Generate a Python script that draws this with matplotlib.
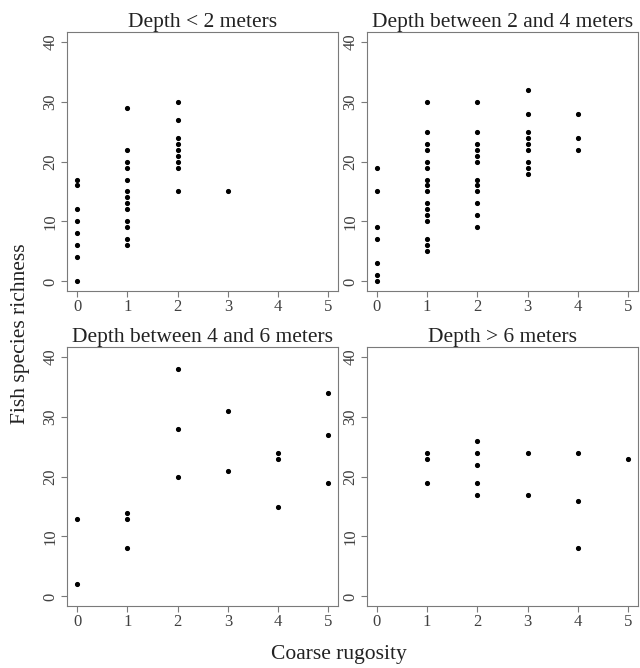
import matplotlib.pyplot as plt

plt.rcParams['font.family'] = ['Liberation Serif', 'DejaVu Serif']

titles = ['Depth < 2 meters', 'Depth between 2 and 4 meters',
          'Depth between 4 and 6 meters', 'Depth > 6 meters']

# (rugosity, richness) per depth class
rug1 = [0]*8 + [1]*13 + [2]*9 + [3]
rich1 = [17, 16, 12, 10, 8, 6, 4, 0,
         29, 22, 20, 19, 17, 15, 14, 13, 12, 10, 9, 7, 6,
         30, 27, 24, 23, 22, 21, 20, 19, 15,
         15]

rug2 = [0]*7 + [1]*16 + [2]*12 + [3]*9 + [4]*3
rich2 = [19, 15, 9, 7, 3, 1, 0,
         30, 25, 23, 22, 20, 19, 17, 16, 15, 13, 12, 11, 10, 7, 6, 5,
         30, 25, 23, 22, 21, 20, 17, 16, 15, 13, 11, 9,
         32, 28, 25, 24, 23, 22, 20, 19, 18,
         28, 24, 22]

rug3 = [0, 0, 1, 1, 1, 2, 2, 2, 3, 3, 4, 4, 4, 5, 5, 5]
rich3 = [13, 2, 14, 13, 8, 38, 28, 20, 31, 21, 24, 23, 15, 34, 27, 19]

rug4 = [1, 1, 1, 2, 2, 2, 2, 2, 3, 3, 4, 4, 4, 5]
rich4 = [24, 23, 19, 26, 24, 22, 19, 17, 24, 17, 24, 16, 8, 23]

data = [(rug1, rich1), (rug2, rich2), (rug3, rich3), (rug4, rich4)]

fig = plt.figure(figsize=(6.4, 6.68), dpi=100)

lefts = [0.1047, 0.573]
width = 0.424
bottoms = [0.5644, 0.0928]
height = 0.3876

edge = '#7a7a7a'
for i, (xs, ys) in enumerate(data):
    ax = fig.add_axes([lefts[i % 2], bottoms[i // 2], width, height])
    ax.plot(xs, ys, 'o', color='black', markersize=2.7)
    ax.set_xlim(-0.2, 5.2)
    ax.set_ylim(-1.6, 41.6)
    ax.set_xticks(range(6))
    ax.set_yticks([0, 10, 20, 30, 40])
    ax.tick_params(axis='y', labelrotation=90, length=4, color=edge,
                   labelcolor='#404040', labelsize=12, pad=2)
    ax.tick_params(axis='x', length=4, color=edge, labelcolor='#404040',
                   labelsize=12, pad=2)
    for lab in ax.get_yticklabels():
        lab.set_verticalalignment('center')
    for s in ax.spines.values():
        s.set_color(edge)
        s.set_linewidth(0.8)
    ax.set_title(titles[i], fontsize=15.5, pad=2, color='#222222')

fig.text(0.53, 0.02, 'Coarse rugosity', ha='center', va='center',
         fontsize=15.5, color='#222222')
fig.text(0.032, 0.5, 'Fish species richness', ha='center', va='center',
         rotation=90, fontsize=15.5, color='#222222')

fig.savefig('out.png', dpi=100)
